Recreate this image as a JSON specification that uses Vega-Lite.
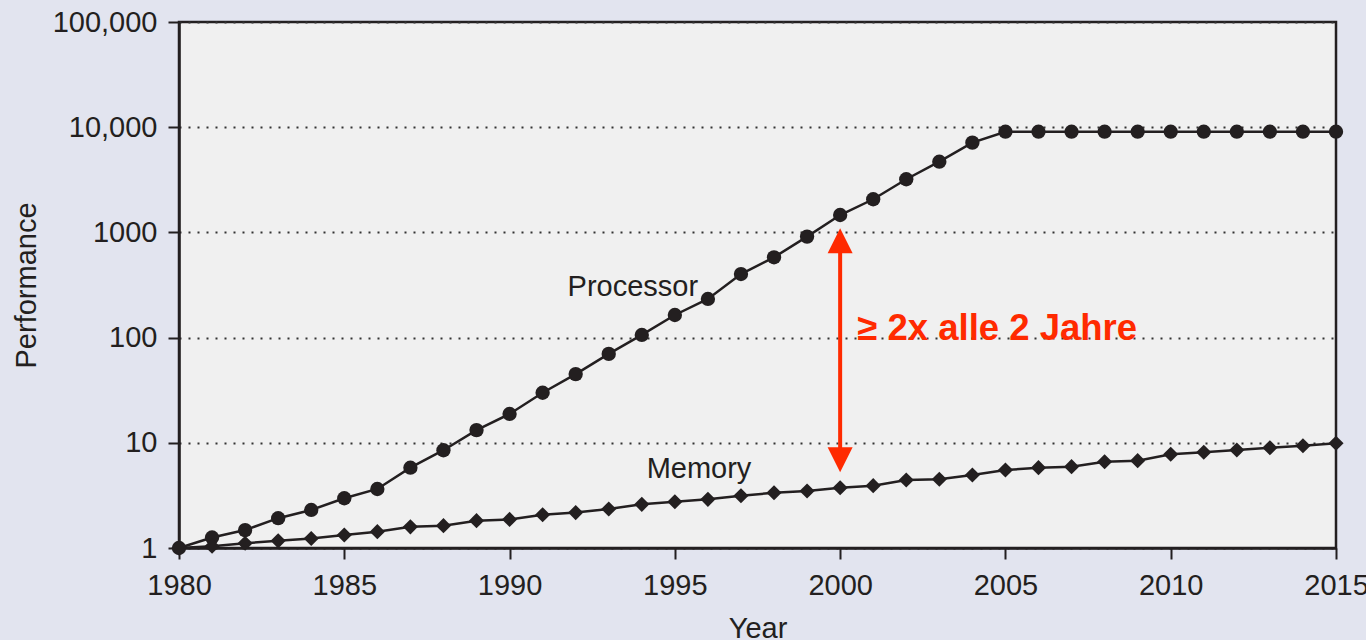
{
  "$schema": "https://vega.github.io/schema/vega-lite/v6.json",
  "width": 1157,
  "height": 526,
  "autosize": {"type": "none"},
  "padding": {"left": 179, "top": 22, "right": 30, "bottom": 92},
  "background": "#e2e4ef",
  "config": {
    "view": {"fill": "#f0f0f0", "stroke": "#231f20", "strokeWidth": 2.5},
    "font": "Liberation Sans"
  },
  "datasets": {
    "perf": [
      {"year": 1980, "series": "Processor", "value": 1},
      {"year": 1981, "series": "Processor", "value": 1.26},
      {"year": 1982, "series": "Processor", "value": 1.48},
      {"year": 1983, "series": "Processor", "value": 1.92},
      {"year": 1984, "series": "Processor", "value": 2.3},
      {"year": 1985, "series": "Processor", "value": 2.97},
      {"year": 1986, "series": "Processor", "value": 3.64},
      {"year": 1987, "series": "Processor", "value": 5.8},
      {"year": 1988, "series": "Processor", "value": 8.5},
      {"year": 1989, "series": "Processor", "value": 13.2},
      {"year": 1990, "series": "Processor", "value": 18.8},
      {"year": 1991, "series": "Processor", "value": 29.9},
      {"year": 1992, "series": "Processor", "value": 45},
      {"year": 1993, "series": "Processor", "value": 70},
      {"year": 1994, "series": "Processor", "value": 106},
      {"year": 1995, "series": "Processor", "value": 164},
      {"year": 1996, "series": "Processor", "value": 233},
      {"year": 1997, "series": "Processor", "value": 402},
      {"year": 1998, "series": "Processor", "value": 580},
      {"year": 1999, "series": "Processor", "value": 912},
      {"year": 2000, "series": "Processor", "value": 1463},
      {"year": 2001, "series": "Processor", "value": 2065},
      {"year": 2002, "series": "Processor", "value": 3200},
      {"year": 2003, "series": "Processor", "value": 4700},
      {"year": 2004, "series": "Processor", "value": 7130},
      {"year": 2005, "series": "Processor", "value": 9060},
      {"year": 2006, "series": "Processor", "value": 9060},
      {"year": 2007, "series": "Processor", "value": 9060},
      {"year": 2008, "series": "Processor", "value": 9060},
      {"year": 2009, "series": "Processor", "value": 9060},
      {"year": 2010, "series": "Processor", "value": 9060},
      {"year": 2011, "series": "Processor", "value": 9060},
      {"year": 2012, "series": "Processor", "value": 9060},
      {"year": 2013, "series": "Processor", "value": 9060},
      {"year": 2014, "series": "Processor", "value": 9060},
      {"year": 2015, "series": "Processor", "value": 9060},
      {"year": 1980, "series": "Memory", "value": 1},
      {"year": 1981, "series": "Memory", "value": 1.04},
      {"year": 1982, "series": "Memory", "value": 1.11},
      {"year": 1983, "series": "Memory", "value": 1.17},
      {"year": 1984, "series": "Memory", "value": 1.23},
      {"year": 1985, "series": "Memory", "value": 1.33},
      {"year": 1986, "series": "Memory", "value": 1.43},
      {"year": 1987, "series": "Memory", "value": 1.59},
      {"year": 1988, "series": "Memory", "value": 1.63},
      {"year": 1989, "series": "Memory", "value": 1.82},
      {"year": 1990, "series": "Memory", "value": 1.87},
      {"year": 1991, "series": "Memory", "value": 2.07},
      {"year": 1992, "series": "Memory", "value": 2.17},
      {"year": 1993, "series": "Memory", "value": 2.35},
      {"year": 1994, "series": "Memory", "value": 2.6},
      {"year": 1995, "series": "Memory", "value": 2.75},
      {"year": 1996, "series": "Memory", "value": 2.9},
      {"year": 1997, "series": "Memory", "value": 3.14},
      {"year": 1998, "series": "Memory", "value": 3.35},
      {"year": 1999, "series": "Memory", "value": 3.48},
      {"year": 2000, "series": "Memory", "value": 3.74},
      {"year": 2001, "series": "Memory", "value": 3.91},
      {"year": 2002, "series": "Memory", "value": 4.43},
      {"year": 2003, "series": "Memory", "value": 4.5},
      {"year": 2004, "series": "Memory", "value": 4.94},
      {"year": 2005, "series": "Memory", "value": 5.51},
      {"year": 2006, "series": "Memory", "value": 5.8},
      {"year": 2007, "series": "Memory", "value": 5.93},
      {"year": 2008, "series": "Memory", "value": 6.61},
      {"year": 2009, "series": "Memory", "value": 6.76},
      {"year": 2010, "series": "Memory", "value": 7.78},
      {"year": 2011, "series": "Memory", "value": 8.13},
      {"year": 2012, "series": "Memory", "value": 8.54},
      {"year": 2013, "series": "Memory", "value": 8.98},
      {"year": 2014, "series": "Memory", "value": 9.38},
      {"year": 2015, "series": "Memory", "value": 9.9}
    ],
    "arrow": [{"year": 2000, "value": 700, "lo": 8}],
    "heads": [
      {"year": 2000, "value": 1096, "dir": "up"},
      {"year": 2000, "value": 5.25, "dir": "down"}
    ],
    "labels": [
      {"year": 1993.73, "value": 248, "text": "Processor"},
      {"year": 1995.73, "value": 4.66, "text": "Memory"}
    ],
    "note": [{"year": 2000.52, "value": 95, "text": "≥ 2x alle 2 Jahre"}]
  },
  "encoding": {
    "x": {
      "field": "year",
      "type": "quantitative",
      "scale": {"domain": [1980, 2015], "nice": false, "zero": false},
      "axis": {
        "values": [1980, 1985, 1990, 1995, 2000, 2005, 2010, 2015],
        "format": "d",
        "labelFlush": false,
        "labelOverlap": false,
        "grid": false,
        "domainColor": "#231f20",
        "domainWidth": 2.5,
        "tickColor": "#231f20",
        "tickWidth": 2,
        "tickSize": 11,
        "labelFontSize": 29,
        "labelColor": "#231f20",
        "labelPadding": 12,
        "title": "Year",
        "titleFontSize": 29,
        "titleFontWeight": "normal",
        "titleColor": "#231f20",
        "titleX": 578.5,
        "titleY": 89,
        "titleBaseline": "alphabetic",
        "titleAlign": "center"
      }
    },
    "y": {
      "field": "value",
      "type": "quantitative",
      "scale": {"type": "log", "domain": [1, 100000], "nice": false},
      "axis": {
        "values": [1, 10, 100, 1000, 10000, 100000],
        "labelExpr": "datum.value >= 10000 ? format(datum.value, ',') : format(datum.value, 'd')",
        "labelOverlap": false,
        "labelFlush": false,
        "grid": true,
        "gridDash": [2, 7],
        "gridColor": "#333333",
        "gridWidth": 2,
        "domainColor": "#231f20",
        "domainWidth": 2.5,
        "tickColor": "#231f20",
        "tickWidth": 2,
        "tickSize": 11,
        "labelFontSize": 29,
        "labelColor": "#231f20",
        "labelPadding": 11,
        "title": "Performance",
        "titleFontSize": 29,
        "titleFontWeight": "normal",
        "titleColor": "#231f20",
        "titleX": -144,
        "titleY": 263,
        "titleAngle": -90,
        "titleBaseline": "alphabetic",
        "titleAlign": "center"
      }
    }
  },
  "layer": [
    {
      "data": {"name": "perf"},
      "mark": {"type": "line", "color": "#231f20", "strokeWidth": 2.5},
      "encoding": {"detail": {"field": "series"}}
    },
    {
      "data": {"name": "perf"},
      "transform": [{"filter": "datum.series === 'Processor'"}],
      "mark": {"type": "point", "shape": "circle", "filled": true, "opacity": 1, "color": "#231f20", "size": 205}
    },
    {
      "data": {"name": "perf"},
      "transform": [{"filter": "datum.series === 'Memory'"}],
      "mark": {"type": "point", "shape": "diamond", "filled": true, "opacity": 1, "color": "#231f20", "size": 230}
    },
    {
      "data": {"name": "arrow"},
      "mark": {"type": "rule", "color": "#ff2a00", "strokeWidth": 4},
      "encoding": {"y2": {"field": "lo"}}
    },
    {
      "data": {"name": "heads"},
      "transform": [{"filter": "datum.dir === 'up'"}],
      "mark": {"type": "point", "shape": "M0,0L1,2L-1,2Z", "filled": true, "opacity": 1, "color": "#ff2a00", "size": 625}
    },
    {
      "data": {"name": "heads"},
      "transform": [{"filter": "datum.dir === 'down'"}],
      "mark": {"type": "point", "shape": "M0,0L1,-2L-1,-2Z", "filled": true, "opacity": 1, "color": "#ff2a00", "size": 625}
    },
    {
      "data": {"name": "labels"},
      "mark": {"type": "text", "fontSize": 29, "color": "#231f20", "align": "center", "baseline": "alphabetic"},
      "encoding": {"text": {"field": "text"}}
    },
    {
      "data": {"name": "note"},
      "mark": {"type": "text", "fontSize": 36.5, "fontWeight": "bold", "color": "#ff2a00", "align": "left", "baseline": "alphabetic"},
      "encoding": {"text": {"field": "text"}}
    }
  ]
}
